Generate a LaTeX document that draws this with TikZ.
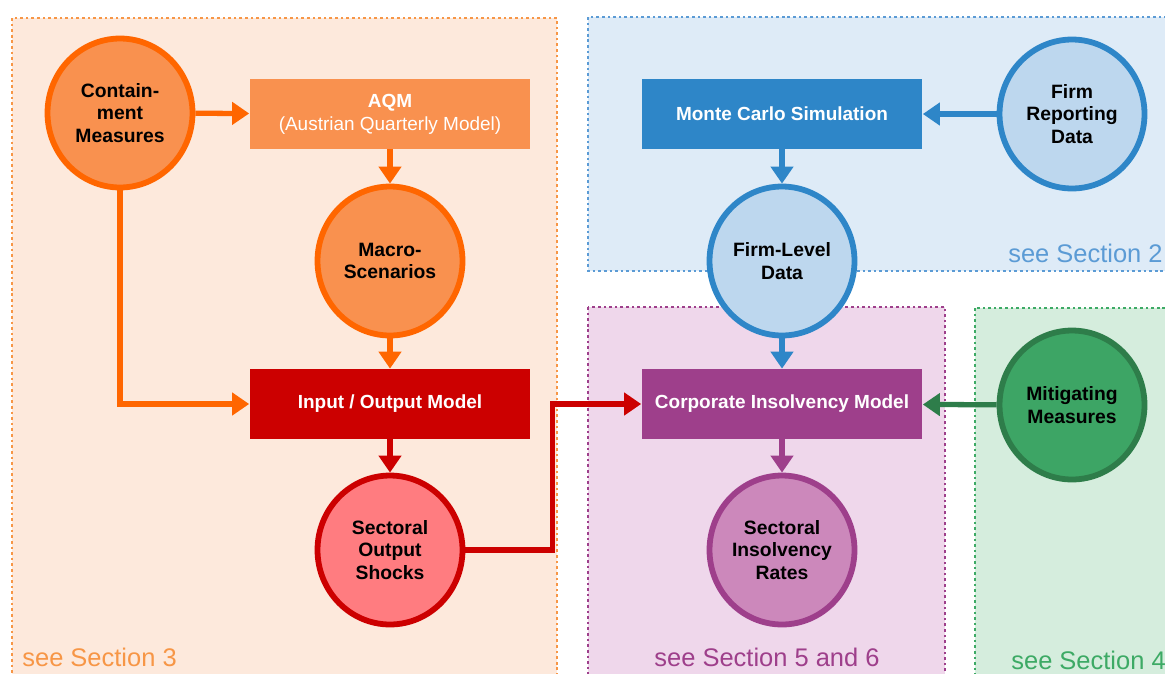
\documentclass[tikz,border=0pt]{standalone}
\usepackage{fontspec}
\setmainfont{Liberation Sans}
\usetikzlibrary{arrows.meta,positioning,shapes.geometric}
\definecolor{orbg}{HTML}{FDE9DC}
\definecolor{orline}{HTML}{FF6600}
\definecolor{orfill}{HTML}{F9914F}
\definecolor{ordot}{HTML}{F79646}
\definecolor{rdbox}{HTML}{CC0000}
\definecolor{rdfill}{HTML}{FF7C80}
\definecolor{blbg}{HTML}{DEEBF7}
\definecolor{blline}{HTML}{2E86C8}
\definecolor{blfill}{HTML}{BDD7EE}
\definecolor{bldot}{HTML}{5B9BD5}
\definecolor{pubg}{HTML}{EFD7EB}
\definecolor{puline}{HTML}{9E3F8B}
\definecolor{pufill}{HTML}{CC88BB}
\definecolor{grbg}{HTML}{D5EDDD}
\definecolor{grline}{HTML}{2E7D4A}
\definecolor{grfill}{HTML}{3DA565}
\definecolor{grdot}{HTML}{3DAA65}
\tikzset{
  circ/.style={ellipse, draw=#1, line width=3.3pt, minimum width=2.9cm, minimum height=2.98cm,
    inner sep=0pt, align=center, font=\bfseries\fontsize{11}{13}\selectfont},
  bx/.style={rectangle, fill=#1, minimum width=5.62cm, minimum height=1.4cm, align=center,
    text=white, font=\bfseries\fontsize{10.8}{13}\selectfont},
  flow/.style={draw=#1, line width=3pt, -{Triangle[width=0.44cm,length=0.34cm]}},
  region/.style={line width=1.5pt, dash pattern=on 1.5pt off 1.7pt},
  seclabel/.style={font=\fontsize{14.5}{16}\selectfont, text=#1, inner sep=0pt}
}
\begin{document}
\begin{tikzpicture}[x=0.02cm, y=-0.02cm]
  \useasboundingbox (0,0) rectangle (1165,673);
  % sections
  \filldraw[region, fill=orbg, draw=ordot] (12,18) rectangle (557,690);
  \filldraw[region, fill=blbg, draw=bldot] (588,17) rectangle (1180,271);
  \filldraw[region, fill=pubg, draw=puline] (588,307) rectangle (945,690);
  \filldraw[region, fill=grbg, draw=grdot] (975,308) rectangle (1180,690);
  \node[seclabel=ordot, anchor=base west] (s3) at (22,666) {see Section 3};
  \node[seclabel=bldot, anchor=base east] (s2) at (1163,262) {see Section 2};
  \node[seclabel=puline, anchor=base] (s56) at (767,666) {see Section 5 and 6};
  \node[seclabel=grdot, anchor=base west] (s4) at (1011,669) {see Section 4};
  % nodes
  \node[circ=orline, fill=orfill] (cm) at (120,113) {Contain-\\ment\\Measures};
  \node[bx=orfill] (aqm) at (390,114) {AQM\\\mdseries(Austrian Quarterly Model)};
  \node[circ=orline, fill=orfill] (ms) at (390,261) {Macro-\\Scenarios};
  \node[bx=rdbox] (io) at (390,404) {Input / Output Model};
  \node[circ=rdbox, fill=rdfill] (so) at (390,550) {Sectoral\\Output\\Shocks};
  \node[bx=blline] (mc) at (782,114) {Monte Carlo Simulation};
  \node[circ=blline, fill=blfill] (frd) at (1072,114) {Firm\\Reporting\\Data};
  \node[circ=blline, fill=blfill] (fld) at (782,261) {Firm-Level\\Data};
  \node[bx=puline] (cim) at (782,404) {Corporate Insolvency Model};
  \node[circ=puline, fill=pufill] (sir) at (782,550) {Sectoral\\Insolvency\\Rates};
  \node[circ=grline, fill=grfill] (mm) at (1072,405) {Mitigating\\Measures};
  % connectors
  \draw[flow=orline] (cm) -- (aqm);
  \draw[flow=orline] (aqm) -- (ms);
  \draw[flow=orline] (ms) -- (io);
  \draw[flow=orline] (cm.south) |- (io.west);
  \draw[flow=rdbox] (io) -- (so);
  \draw[flow=rdbox] (so.east) -- ++(87,0) |- (cim.west);
  \draw[flow=blline] (frd) -- (mc);
  \draw[flow=blline] (mc) -- (fld);
  \draw[flow=blline] (fld) -- (cim);
  \draw[flow=grline] (mm) -- (cim);
  \draw[flow=puline] (cim) -- (sir);
\end{tikzpicture}
\end{document}
